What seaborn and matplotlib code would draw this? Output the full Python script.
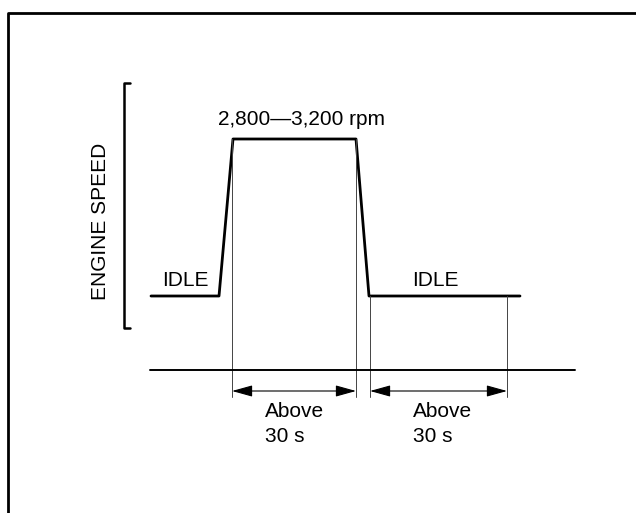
import matplotlib
matplotlib.use("Agg")
import matplotlib.pyplot as plt
import seaborn as sns
import pandas as pd

# Schematic engine-speed profile (x: time position, y: speed level; screen units, y down)
time = [151, 219, 233, 356, 369, 520]
speed = [296, 296, 139, 139, 296, 296]
phase_edges = [232, 356, 370, 507]          # vertical guide lines (start/end of timed phases)
phase_tops = [139, 139, 296, 296]
time_axis = [150, 575]
axis_level = 370
rpm_label = "2,800\u20143,200 rpm"
idle_label = "IDLE"
duration_lines = ["Above", "30 s"]
y_label = "ENGINE SPEED"

sns.set_theme(style="white")
plt.rcParams['font.family'] = ['Liberation Sans', 'DejaVu Sans']

FS = 15

fig = plt.figure(figsize=(6.36, 5.13), dpi=100)
ax = fig.add_axes([0, 0, 1, 1])
ax.set_xlim(0, 636)
ax.set_ylim(513, 0)
ax.axis('off')

df = pd.DataFrame({"time": time, "speed": speed})
sns.lineplot(data=df, x="time", y="speed", sort=False, color="black", lw=2, ax=ax)

# outer frame (cropped box)
ax.plot([7.5, 7.5, 640], [520, 12.5, 12.5], color="black", lw=2, solid_capstyle="butt")

# guide lines
for xe, yt in zip(phase_edges, phase_tops):
    ax.plot([xe, xe], [yt, 397], color="#444444", lw=0.7)
ax.plot(time_axis, [axis_level, axis_level], color="black", lw=1.4)

# dimension arrows
for (a, b), tx in zip([(phase_edges[0], phase_edges[1]), (phase_edges[2], phase_edges[3])], [265, 413]):
    ax.annotate("", xy=(a, 391), xytext=(b, 391),
                arrowprops=dict(arrowstyle="<|-|>,head_length=0.9,head_width=0.25", color="black", lw=0.8,
                                mutation_scale=14, shrinkA=0, shrinkB=0))
    ax.text(tx, 417, duration_lines[0], ha="left", va="baseline", fontsize=FS, color="black")
    ax.text(tx, 442, duration_lines[1], ha="left", va="baseline", fontsize=FS, color="black")

# bracket on speed axis
ax.plot([130, 124, 124, 130], [83, 83, 328, 328], color="black", lw=1.8)

ax.text(100, 221, y_label, rotation=90, ha="center", va="center", fontsize=FS, color="black")
ax.text(301, 125, rpm_label, ha="center", va="baseline", fontsize=FS, color="black")
ax.text(185, 286.5, idle_label, ha="center", va="baseline", fontsize=FS, color="black")
ax.text(435, 286.5, idle_label, ha="center", va="baseline", fontsize=FS, color="black")

fig.savefig("out.png", dpi=100, facecolor="white")
